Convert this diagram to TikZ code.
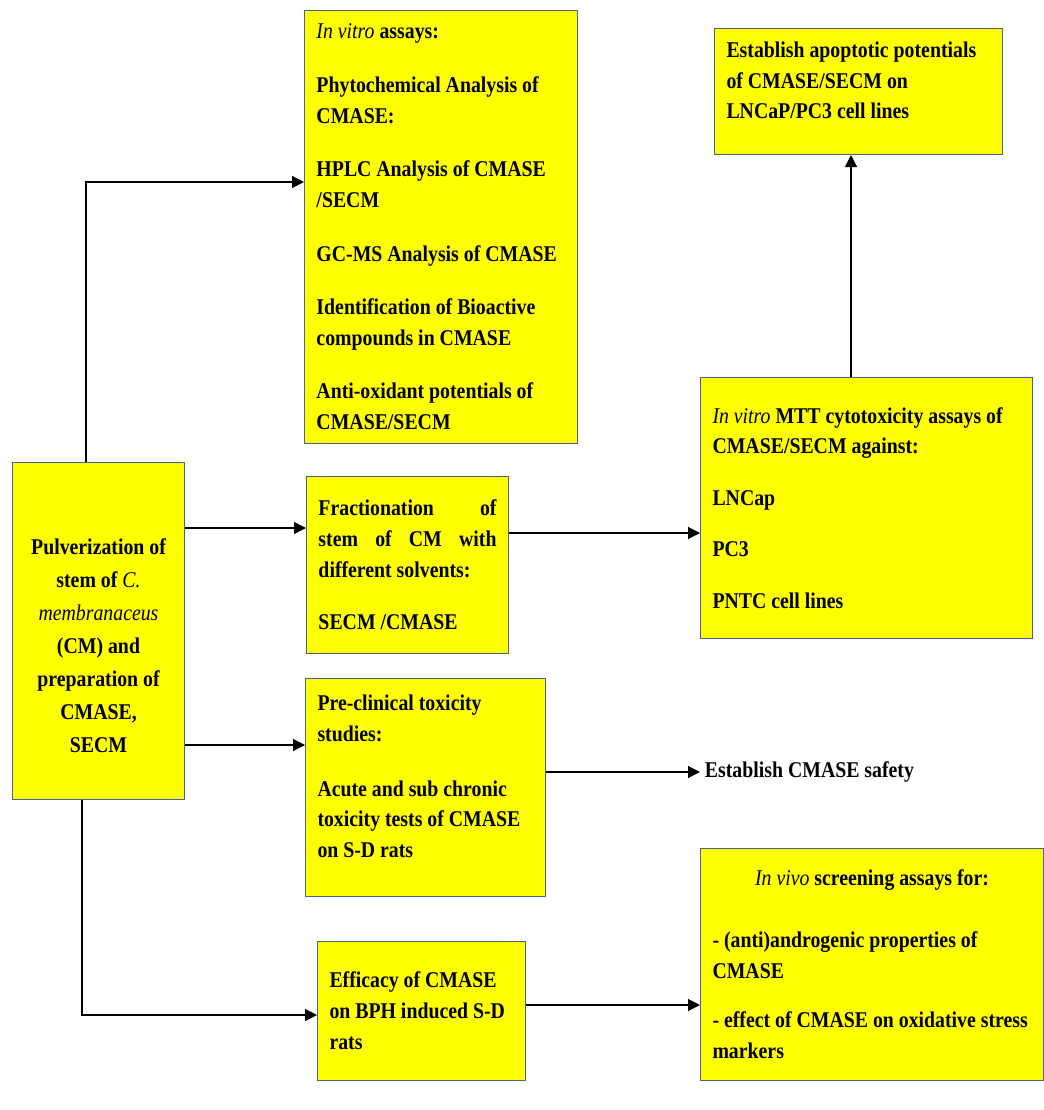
\documentclass[tikz,border=0pt]{standalone}
\usepackage{fontspec}
\setmainfont{Liberation Serif}[FakeStretch=0.88]
\usepackage{xcolor}
\usepackage{tikz}
\usetikzlibrary{arrows.meta}
\definecolor{boxfill}{RGB}{255,255,0}
\definecolor{boxline}{RGB}{72,100,150}
\newcommand{\sciname}[1]{{\mdseries\itshape #1}}
\newcommand{\padtop}[1]{\rule{0pt}{#1}}
\newcommand{\padbot}[1]{\rule[-#1]{0pt}{#1}}
\begin{document}
\begin{tikzpicture}[x=0.025cm, y=-0.025cm,
        box/.style={draw=boxline, line width=0.7pt, fill=boxfill, rectangle, anchor=north west,
                inner xsep=0.3cm, align=flush left, font=\fontsize{16}{22}\selectfont\bfseries},
        arr/.style={-{Triangle[length=0.3cm, width=0.3cm]}, thick}]
        \useasboundingbox (0,0) rectangle (1044,1110);
        \node[box, text width=6.225cm, minimum height=10.825cm] (invitro) at (304,10) {\sciname{In vitro} assays:\\[16pt]
                Phytochemical Analysis of\\ CMASE:\\[16pt]
                HPLC Analysis of CMASE\\ /SECM\\[16pt]
                GC-MS Analysis of CMASE\\[16pt]
                Identification of Bioactive\\ compounds in CMASE\\[16pt]
                Anti-oxidant potentials of\\ CMASE/SECM};
        \node[box, text width=6.6cm, minimum height=3.15cm] (apop) at (714,28) {Establish apoptotic potentials\\ of CMASE/SECM on\\ LNCaP/PC3 cell lines\padbot{16pt}};
        \node[box, text width=3.7cm, minimum height=8.425cm, align=flush center, font=\fontsize{16}{23.5}\selectfont\bfseries] (pulv) at (12,462) {\padtop{32pt}Pulverization of\\ stem of \sciname{C.}\\ \sciname{membranaceus}\\ (CM) and\\ preparation of\\ CMASE,\\ SECM};
        \node[box, text width=4.45cm, minimum height=4.425cm] (frac) at (306,476) {Fractionation\hfill of\\ stem\hfill of\hfill CM\hfill with\\ different solvents:\\[15pt] SECM /CMASE};
        \node[box, text width=7.7cm, minimum height=6.525cm] (mtt) at (700,377) {\sciname{In vitro} MTT cytotoxicity assays of\\ CMASE/SECM against:\\[15pt]
                LNCap\\[14pt] PC3\\[15pt] PNTC cell lines};
        \node[box, text width=5.4cm, minimum height=5.45cm] (preclin) at (305,678) {Pre-clinical toxicity\\ studies:\\[17pt]
                Acute and sub chronic\\ toxicity tests of CMASE\\ on S-D rats\padbot{16pt}};
        \node[anchor=west, font=\fontsize{16}{22}\selectfont\bfseries] (safety) at (700,772) {Establish CMASE safety};
        \node[box, text width=4.6cm, minimum height=3.475cm] (efficacy) at (317,941) {Efficacy of CMASE\\ on BPH induced S-D\\ rats};
        \node[box, text width=7.975cm, minimum height=5.8cm] (invivo) at (700,848) {\hfill\sciname{In vivo} screening assays for:\hfill\mbox{}\\[22pt]
                - (anti)androgenic properties of\\ CMASE\\[13pt]
                - effect of CMASE on oxidative stress\\ markers};
        \draw[arr] (pulv.north -| 86,0) |- (invitro.west |- 0,182);
        \draw[arr] (pulv.east |- 0,528) -- (frac.west |- 0,528);
        \draw[arr] (frac.east |- 0,533) -- (mtt.west |- 0,533);
        \draw[arr] (mtt.north -| 851,0) -- (apop.south -| 851,0);
        \draw[arr] (pulv.east |- 0,745) -- (preclin.west |- 0,745);
        \draw[arr] (preclin.east |- safety.west) -- (safety.west);
        \draw[arr] (pulv.south -| 82,0) |- (efficacy.west |- 0,1015);
        \draw[arr] (efficacy.east |- 0,1005) -- (invivo.west |- 0,1005);
    \end{tikzpicture}
\end{document}
